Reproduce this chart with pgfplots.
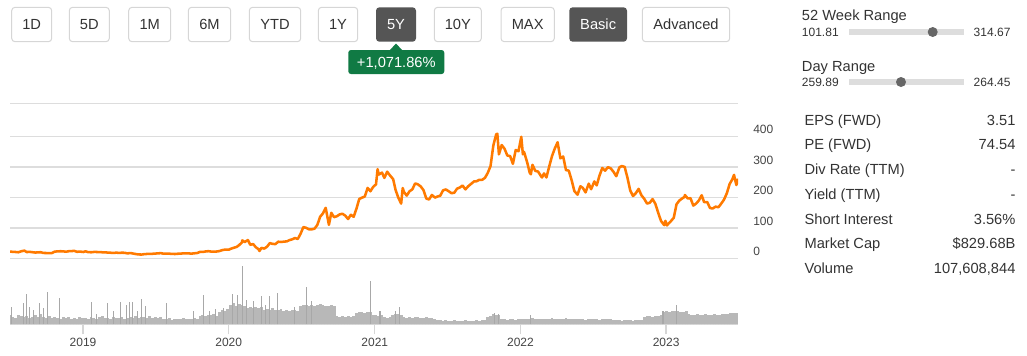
\documentclass[border=0pt]{standalone}
\usepackage{fontspec}
\setmainfont{Liberation Sans}
\usepackage{pgfplots}
\usepackage{pgfplotstable}
\pgfplotsset{compat=1.18}
\usepgfplotslibrary{dateplot}
\definecolor{priceorange}{RGB}{255,122,0}
\definecolor{volgray}{RGB}{168,168,168}
\definecolor{volbasegray}{RGB}{184,184,184}
\definecolor{gridgray}{RGB}{221,221,221}
\definecolor{axisgray}{RGB}{214,214,214}
\definecolor{ticktext}{RGB}{68,68,68}
\definecolor{txt}{RGB}{51,51,51}
\definecolor{btnborder}{RGB}{214,214,214}
\definecolor{btndark}{RGB}{85,85,85}
\definecolor{badgegreen}{RGB}{16,122,68}
\definecolor{slider}{RGB}{221,221,221}
\definecolor{knob}{RGB}{102,102,102}

% weekly volume (millions of shares), one row per week from 2018-07-02
\pgfplotstableread{
v
140
120
105
150
125
110
130
100
115
140
120
160
110
95
125
105
115
100
90
110
95
120
85
100
90
115
95
105
85
120
100
90
110
125
95
100
85
115
105
95
110
90
100
115
105
130
100
120
110
95
125
105
115
100
110
85
80
95
75
90
85
80
95
85
90
80
100
90
130
150
135
145
140
155
130
200
230
210
240
300
330
290
320
310
280
250
270
260
275
250
265
230
240
220
250
230
225
240
215
225
210
230
220
215
290
310
300
295
310
290
305
315
300
295
280
300
290
130
120
125
115
130
120
125
180
200
190
185
195
200
145
140
135
150
110
105
115
150
160
155
150
115
105
110
100
115
110
105
100
110
95
100
90
65
60
55
60
50
55
60
55
50
55
60
55
50
55
60
58
62
65
120
130
160
150
145
85
80
75
85
80
75
80
85
90
80
85
95
80
85
90
80
85
90
95
85
80
90
85
95
90
80
85
90
85
80
75
85
90
80
85
75
80
85
80
80
65
60
65
55
60
65
60
55
60
65
70
120
130
125
120
135
130
140
200
210
195
215
205
210
200
190
205
155
150
145
160
150
140
155
145
150
160
150
145
155
160
165
170
180
175
}\volbase

% single-day volume spikes: day since 2018-07-02, millions
\pgfplotstableread{
d v
4 278
33 330
42 470
50 267
58 220
73 330
83 250
94 500
123 410
205 345
217 157
244 330
259 204
278 345
292 300
299 345
308 345
320 204
330 390
340 280
393 330
459 205
484 455
501 204
514 235
534 250
558 470
570 455
583 910
593 375
610 360
629 440
639 300
651 440
671 485
712 265
742 580
756 360
904 675
927 205
967 205
977 265
1215 175
1223 160
1303 140
1636 205
1670 300
}\volspike

\pgfplotstableread[col sep=comma]{
date,close
2018-07-02,22.3
2018-07-09,21.2
2018-07-16,20.8
2018-07-23,19.8
2018-07-30,23.1
2018-08-07,25.3
2018-08-13,20.5
2018-08-20,21.4
2018-08-27,20.1
2018-09-04,18.9
2018-09-10,19.7
2018-09-17,20.0
2018-09-24,17.6
2018-10-01,17.4
2018-10-08,17.3
2018-10-15,17.3
2018-10-22,22.1
2018-10-29,22.7
2018-11-05,23.3
2018-11-12,23.0
2018-11-19,21.6
2018-11-26,23.3
2018-12-03,23.8
2018-12-10,24.4
2018-12-17,21.3
2018-12-24,22.2
2019-01-02,20.7
2019-01-07,23.1
2019-01-14,20.2
2019-01-22,19.9
2019-01-28,20.9
2019-02-04,20.8
2019-02-11,20.5
2019-02-19,19.8
2019-02-25,19.6
2019-03-04,18.9
2019-03-11,18.4
2019-03-18,17.6
2019-03-25,18.6
2019-04-01,17.9
2019-04-08,18.4
2019-04-15,18.2
2019-04-22,16.4
2019-05-01,17.1
2019-05-06,15.8
2019-05-13,14.1
2019-05-20,12.7
2019-05-28,12.4
2019-06-03,13.6
2019-06-10,14.3
2019-06-17,14.9
2019-06-24,14.9
2019-07-01,15.6
2019-07-08,16.3
2019-07-15,17.0
2019-07-22,15.2
2019-07-29,15.6
2019-08-05,15.2
2019-08-12,14.6
2019-08-19,14.1
2019-08-26,15.0
2019-09-03,15.3
2019-09-09,16.5
2019-09-16,16.0
2019-09-23,16.1
2019-09-30,15.4
2019-10-07,16.5
2019-10-14,17.4
2019-10-21,21.1
2019-10-28,20.9
2019-11-04,22.5
2019-11-11,23.5
2019-11-18,22.2
2019-11-25,22.0
2019-12-02,22.4
2019-12-09,23.9
2019-12-16,27.0
2019-12-23,28.7
2020-01-02,28.7
2020-01-06,31.3
2020-01-13,34.3
2020-01-21,37.6
2020-01-27,43.4
2020-02-03,52.0
2020-02-04,59.1
2020-02-10,53.6
2020-02-18,60.1
2020-02-24,44.5
2020-03-02,47.0
2020-03-09,36.4
2020-03-16,29.7
2020-03-18,24.1
2020-03-23,34.3
2020-03-30,32.0
2020-04-06,38.2
2020-04-13,50.1
2020-04-20,47.4
2020-04-27,46.8
2020-05-04,54.6
2020-05-11,53.7
2020-05-18,54.8
2020-05-26,55.9
2020-06-01,59.9
2020-06-08,62.4
2020-06-15,66.7
2020-06-22,63.6
2020-06-29,80.6
2020-07-06,102.9
2020-07-13,100.2
2020-07-20,95.4
2020-07-27,95.4
2020-08-03,97.5
2020-08-10,109.8
2020-08-17,136.7
2020-08-24,147.6
2020-08-31,166.1
2020-09-08,110.1
2020-09-14,149.8
2020-09-21,135.2
2020-09-28,138.4
2020-10-05,144.5
2020-10-12,146.6
2020-10-19,140.4
2020-10-26,129.3
2020-11-02,143.2
2020-11-09,136.7
2020-11-16,163.2
2020-11-23,195.0
2020-11-30,199.7
2020-12-07,203.3
2020-12-14,231.7
2020-12-21,220.6
2020-12-28,235.2
2021-01-04,243.3
2021-01-08,293.3
2021-01-11,275.4
2021-01-19,282.0
2021-01-25,264.5
2021-02-01,285.0
2021-02-08,272.8
2021-02-16,260.4
2021-02-22,225.2
2021-03-01,199.3
2021-03-08,180.0
2021-03-12,231.2
2021-03-15,218.3
2021-03-22,206.3
2021-03-29,220.6
2021-04-05,226.8
2021-04-12,246.3
2021-04-19,243.3
2021-04-26,236.5
2021-05-03,224.4
2021-05-10,196.8
2021-05-17,193.5
2021-05-24,208.4
2021-06-01,199.7
2021-06-07,203.3
2021-06-14,206.0
2021-06-21,223.6
2021-06-28,226.6
2021-07-06,219.9
2021-07-12,214.4
2021-07-19,215.6
2021-07-26,229.1
2021-08-02,233.0
2021-08-09,239.5
2021-08-16,226.8
2021-08-23,237.0
2021-08-30,244.7
2021-09-07,253.3
2021-09-13,253.6
2021-09-20,258.3
2021-09-27,258.3
2021-10-04,264.6
2021-10-11,281.0
2021-10-18,303.7
2021-10-25,371.3
2021-11-01,407.4
2021-11-04,409.9
2021-11-08,342.0
2021-11-15,372.7
2021-11-22,360.6
2021-11-29,338.3
2021-12-06,336.3
2021-12-13,310.8
2021-12-20,356.3
2021-12-27,352.3
2022-01-03,399.9
2022-01-07,342.3
2022-01-10,349.9
2022-01-18,314.6
2022-01-24,282.1
2022-01-27,276.4
2022-01-31,307.8
2022-02-07,287.7
2022-02-14,285.6
2022-02-22,269.0
2022-02-24,266.0
2022-03-01,279.4
2022-03-07,266.0
2022-03-14,302.3
2022-03-21,336.3
2022-03-28,361.5
2022-04-04,381.8
2022-04-11,328.9
2022-04-18,335.0
2022-04-25,290.3
2022-05-02,288.5
2022-05-09,257.7
2022-05-16,221.3
2022-05-24,209.4
2022-05-31,237.0
2022-06-06,232.2
2022-06-13,216.8
2022-06-21,245.7
2022-06-27,227.3
2022-07-05,252.8
2022-07-11,240.1
2022-07-18,272.3
2022-07-25,297.1
2022-08-01,288.2
2022-08-08,300.0
2022-08-15,296.1
2022-08-22,284.8
2022-08-29,270.2
2022-09-06,299.7
2022-09-12,303.4
2022-09-19,300.8
2022-09-26,265.3
2022-10-03,223.1
2022-10-10,204.9
2022-10-17,214.4
2022-10-24,228.5
2022-10-31,207.5
2022-11-07,195.9
2022-11-14,180.2
2022-11-21,182.9
2022-11-28,194.9
2022-12-05,179.1
2022-12-12,150.2
2022-12-19,123.2
2022-12-27,109.1
2022-12-30,123.2
2023-01-03,108.1
2023-01-06,113.1
2023-01-13,122.4
2023-01-20,133.4
2023-01-27,177.9
2023-02-03,190.0
2023-02-10,196.9
2023-02-16,202.0
2023-02-17,208.3
2023-02-24,196.9
2023-03-03,197.8
2023-03-10,173.4
2023-03-17,180.1
2023-03-24,190.4
2023-03-31,207.5
2023-04-06,185.0
2023-04-14,185.0
2023-04-21,165.1
2023-04-28,164.3
2023-05-05,170.1
2023-05-12,168.0
2023-05-19,180.1
2023-05-26,193.2
2023-06-02,214.0
2023-06-09,244.4
2023-06-16,260.5
2023-06-20,274.5
2023-06-23,256.6
2023-06-26,241.1
2023-06-30,261.8
}\price

\begin{document}
\begin{tikzpicture}
\path[use as bounding box] (0,0) rectangle (770.25pt,-266.25pt);

% volume panel
\begin{axis}[
  at={(7.5pt,-243.225pt)}, anchor=south west,
  width=546pt, height=43.5pt, scale only axis,
  xmin=0, xmax=1824, ymin=0, ymax=910,
  axis x line*=bottom, axis y line=none,
  x axis line style={-, draw=axisgray, line width=1pt},
  xtick={183,548,914,1279,1644},
  xticklabels={2019,2020,2021,2022,2023},
  xtick style={draw=axisgray, line width=1pt},
  major tick length=7.5pt, tick align=outside,
  xticklabel style={font=\fontsize{9}{10}\selectfont, text=ticktext, anchor=base, inner sep=0pt, yshift=-9pt},
  ytick=\empty,
]
\addplot[ycomb, draw=volbasegray, line width=2.2pt, mark=none] table[x expr=\coordindex*7, y=v] {\volbase};
\addplot[ycomb, draw=volgray, line width=0.8pt, mark=none] table[x=d, y=v] {\volspike};
\end{axis}

% price panel
\begin{axis}[
  at={(7.5pt,-193.725pt)}, anchor=south west,
  width=546pt, height=116.25pt, scale only axis,
  date coordinates in=x,
  xmin=2018-07-02, xmax=2023-06-30,
  ymin=0, ymax=510,
  axis line style={draw=none},
  xtick=\empty,
  ytick={0,100,200,300,400,510},
  yticklabels={0,100,200,300,400,{}},
  ymajorgrids, grid style={draw=gridgray, line width=1pt},
  major tick length=0pt,
  yticklabel pos=right,
  /pgf/number format/assume math mode=true,
  yticklabel style={anchor=west, inner sep=0pt, xshift=11.25pt, yshift=5.25pt, font=\fontsize{9}{10}\selectfont, text=ticktext},
]
\addplot[priceorange, line width=1.9pt, line join=round, mark=none] table[x=date, y=close] {\price};
\end{axis}

\begin{scope}[x=0.75pt, y=-0.75pt, font=\fontsize{11}{13}\selectfont]
% range buttons
\foreach \xa/\xb/\lab in {11.7/51.7/1D, 69.3/109.3/5D, 128.7/170.7/1M, 188.3/230.7/6M, 249.3/300.7/YTD, 318.3/357.7/1Y, 434.3/481.3/10Y, 501/554.3/MAX, 642.3/729.7/Advanced}{
  \draw[btnborder, line width=0.75pt, rounded corners=2.5pt, fill=white] (\xa,7.3) rectangle (\xb,41.7);
  \node[txt, anchor=base, inner sep=0pt] at ({(\xa+\xb)/2},29.75) {\lab};
}
\foreach \xa/\xb/\lab in {376/416/5Y, 569.3/627/Basic}{
  \fill[btndark, rounded corners=2.5pt] (\xa,7.3) rectangle (\xb,41.7);
  \node[white, anchor=base, inner sep=0pt] at ({(\xa+\xb)/2},29.75) {\lab};
}
% change badge
\fill[badgegreen, rounded corners=2pt] (348.3,50) rectangle (444.3,74);
\fill[badgegreen] (389.5,50.5) -- (396,43.5) -- (402.5,50.5) -- cycle;
\node[white, anchor=base, inner sep=0pt] at (396.3,67.25) {+1,071.86\%};

% right panel
\node[txt, anchor=base west, inner sep=0pt] at (801.7,20.25) {52 Week Range};
\node[txt, anchor=base west, inner sep=0pt, font=\fontsize{9}{10}\selectfont] at (801.7,36.5) {101.81};
\node[txt, anchor=base east, inner sep=0pt, font=\fontsize{9}{10}\selectfont] at (1010.7,36.5) {314.67};
\draw[slider, line width=4pt] (849,32) -- (964,32);
\fill[knob] (932.7,32) circle[radius=3.75pt];

\node[txt, anchor=base west, inner sep=0pt] at (801.7,71.95) {Day Range};
\node[txt, anchor=base west, inner sep=0pt, font=\fontsize{9}{10}\selectfont] at (801.7,86.3) {259.89};
\node[txt, anchor=base east, inner sep=0pt, font=\fontsize{9}{10}\selectfont] at (1010.7,86.3) {264.45};
\draw[slider, line width=4pt] (849,82) -- (964,82);
\fill[knob] (901,82) circle[radius=3.75pt];

\foreach \yc/\lab/\val in {120/{EPS (FWD)}/{3.51}, 144.7/{PE (FWD)}/{74.54}, 169.4/{Div Rate (TTM)}/{-}, 194.1/{Yield (TTM)}/{-}, 218.8/{Short Interest}/{3.56\%}, 243.5/{Market Cap}/{\$829.68B}, 268.2/{Volume}/{107,608,844}}{
  \node[txt, anchor=base west, inner sep=0pt] at (804.3,\yc+5.25) {\lab};
  \node[txt, anchor=base east, inner sep=0pt] at (1015.7,\yc+5.25) {\val};
}
\end{scope}
\end{tikzpicture}
\end{document}
